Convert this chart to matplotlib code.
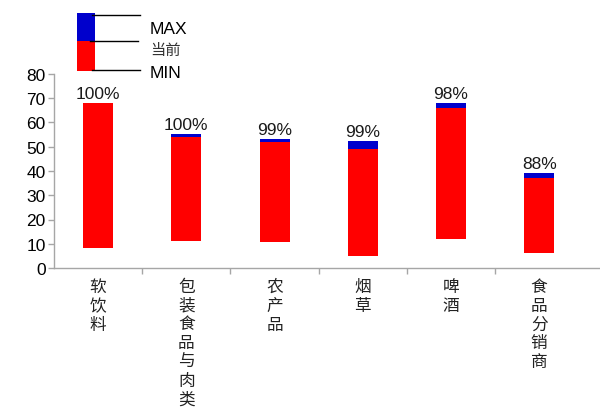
import matplotlib.pyplot as plt
import numpy as np

plt.rcParams['font.family'] = ['Liberation Sans', 'Noto Sans CJK SC', 'DejaVu Sans']

categories = ['软饮料', '包装食品与肉类', '农产品', '烟草', '啤酒', '食品分销商']
min_vals = [8.2, 11.1, 10.6, 4.8, 12.0, 6.2]
cur_vals = [68.0, 54.1, 51.8, 49.2, 65.9, 37.2]
max_vals = [68.0, 55.3, 53.1, 52.4, 67.9, 39.2]
pct_labels = ['100%', '100%', '99%', '99%', '98%', '88%']

RED = '#ff0000'
BLUE = '#0000cc'
GRAY = '#a6a6a6'

fig = plt.figure(figsize=(6, 4.14), dpi=100)
ax = fig.add_axes([54 / 600, 1 - 269 / 414, 546 / 600, 194 / 414])

x = np.arange(len(categories))
mins = np.array(min_vals)
curs = np.array(cur_vals)
maxs = np.array(max_vals)

w = 0.34
ax.bar(x, curs - mins, bottom=mins, width=w, color=RED, edgecolor='none')
ax.bar(x, maxs - curs, bottom=curs, width=w, color=BLUE, edgecolor='none')

for xi, top, lab in zip(x, maxs, pct_labels):
    ax.annotate(lab, (xi, top), xytext=(0, 1.5), textcoords='offset points',
                ha='center', va='bottom', fontsize=12.5, color='#1a1a1a')

ax.set_ylim(0, 80)
ax.set_yticks(range(0, 81, 10))
ax.set_xlim(-0.5, 5.69)
ax.set_xticks(x)
ax.set_xticklabels([])
ax.set_xticks(np.arange(0.5, 5, 1), minor=True)
ax.tick_params(axis='x', which='major', length=0)
ax.tick_params(axis='x', which='minor', length=4, color=GRAY, width=1)
ax.tick_params(axis='y', length=4, color=GRAY, width=1, labelsize=12.5, pad=2)

for s in ['top', 'right']:
    ax.spines[s].set_visible(False)
for s in ['left', 'bottom']:
    ax.spines[s].set_color(GRAY)
    ax.spines[s].set_linewidth(1)

# vertical category labels
for xi, name in zip(x, categories):
    ax.text(xi, -4.2, '\n'.join(name), ha='center', va='top', fontsize=12,
            linespacing=1.13, family=['Noto Sans CJK SC'], color='#222222',
            transform=ax.transData, clip_on=False)

# legend drawn by hand
lg = fig.add_axes([0, 1 - 90 / 414, 250 / 600, 90 / 414])
lg.set_xlim(0, 250)
lg.set_ylim(90, 0)
lg.axis('off')
lg.bar([86], [28], bottom=[14], width=18, color=BLUE, edgecolor='none')
lg.bar([86], [30], bottom=[42], width=18, color=RED, edgecolor='none')
lg.plot([92, 140], [16, 16], color='black', lw=1)
lg.plot([90, 138], [42, 42], color='black', lw=1)
lg.plot([92, 140], [71, 71], color='black', lw=1)
lg.text(150, 30, 'MAX', fontsize=12.5, va='center', ha='left')
lg.text(150, 50, '当前', fontsize=11, va='center', ha='left',
        family=['Noto Sans CJK SC'], color='#333333')
lg.text(150, 74, 'MIN', fontsize=12.5, va='center', ha='left')

fig.savefig('out.png', dpi=100)
